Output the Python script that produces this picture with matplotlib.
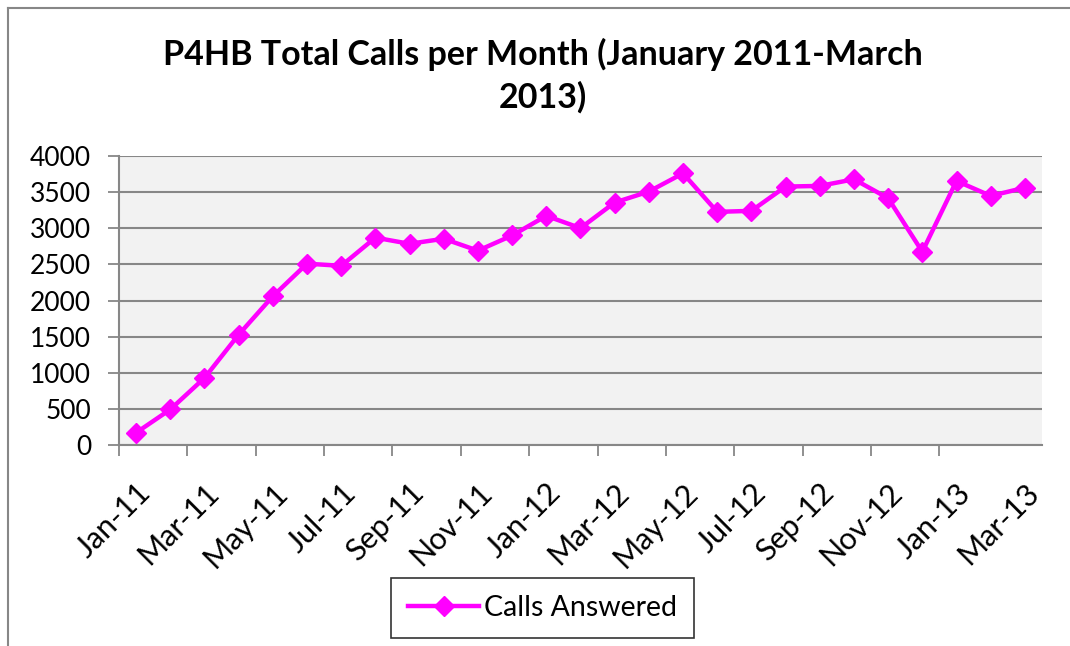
import matplotlib.pyplot as plt
from matplotlib.lines import Line2D

months = ["Jan-11", "Feb-11", "Mar-11", "Apr-11", "May-11", "Jun-11", "Jul-11",
          "Aug-11", "Sep-11", "Oct-11", "Nov-11", "Dec-11",
          "Jan-12", "Feb-12", "Mar-12", "Apr-12", "May-12", "Jun-12", "Jul-12",
          "Aug-12", "Sep-12", "Oct-12", "Nov-12", "Dec-12",
          "Jan-13", "Feb-13", "Mar-13"]
calls = [170, 492, 928, 1527, 2059, 2510, 2480, 2870, 2785, 2855, 2690, 2900,
         3172, 3002, 3356, 3508, 3760, 3227, 3241, 3577, 3586, 3678, 3416, 2675,
         3655, 3448, 3562]
y_ticks = [0, 500, 1000, 1500, 2000, 2500, 3000, 3500, 4000]

plt.rcParams['font.family'] = ['Lato', 'DejaVu Sans']

fig = plt.figure(figsize=(10.7, 6.46), dpi=100)
ax = fig.add_axes([0.1112, 0.3111, 0.8626, 0.4474])
ax.set_facecolor('#F2F2F2')

x = list(range(len(months)))
ax.plot(x, calls, color='#FF00FF', lw=3.2, marker='D', markersize=10.5,
        label='Calls Answered', zorder=3)

ax.set_xlim(-0.5, len(months) - 0.5)
ax.set_ylim(0, 4000)
ax.set_yticks(y_ticks)
ax.yaxis.grid(True, color='#878787', lw=1.5)
ax.set_axisbelow(True)
ax.tick_params(axis='y', direction='out', length=8, width=1.3, color='#878787',
               labelsize=19, pad=12)

# ticks between categories, labels on every second month
ax.set_xticks([i - 0.5 for i in range(0, len(months) - 1, 2)])
ax.set_xticklabels([])
ax.set_xticks(x[::2], minor=True)
ax.set_xticklabels(months[::2], minor=True, rotation=45, ha='right', va='top',
                   rotation_mode='anchor', fontsize=22)
ax.tick_params(axis='x', which='major', direction='out', length=8, width=1.3,
               color='#878787')
ax.tick_params(axis='x', which='minor', length=0, pad=24)

for s in ['top', 'right']:
    ax.spines[s].set_visible(False)
for s in ['left', 'bottom']:
    ax.spines[s].set_color('#878787')
    ax.spines[s].set_linewidth(1.5)

fig.text(0.507, 0.883, "P4HB Total Calls per Month (January 2011-March\n2013)",
         ha='center', va='center', fontsize=24.5, fontweight='bold',
         linespacing=1.4)

leg = fig.legend(loc='center', bbox_to_anchor=(0.507, 0.0588), fontsize=20.5,
                 frameon=True, fancybox=False, handlelength=2.5,
                 borderpad=0.6, handletextpad=0.15, borderaxespad=0)
leg.get_frame().set_edgecolor('black')
leg.get_frame().set_linewidth(1.2)

# outer chart border (left and top visible)
fig.add_artist(Line2D([7.5 / 1070, 7.5 / 1070], [0, 1 - 7.5 / 646],
                      transform=fig.transFigure, color='#878787', lw=1.5))
fig.add_artist(Line2D([7.5 / 1070, 1], [1 - 7.5 / 646, 1 - 7.5 / 646],
                      transform=fig.transFigure, color='#878787', lw=1.5))

fig.savefig('out.png', dpi=100)
